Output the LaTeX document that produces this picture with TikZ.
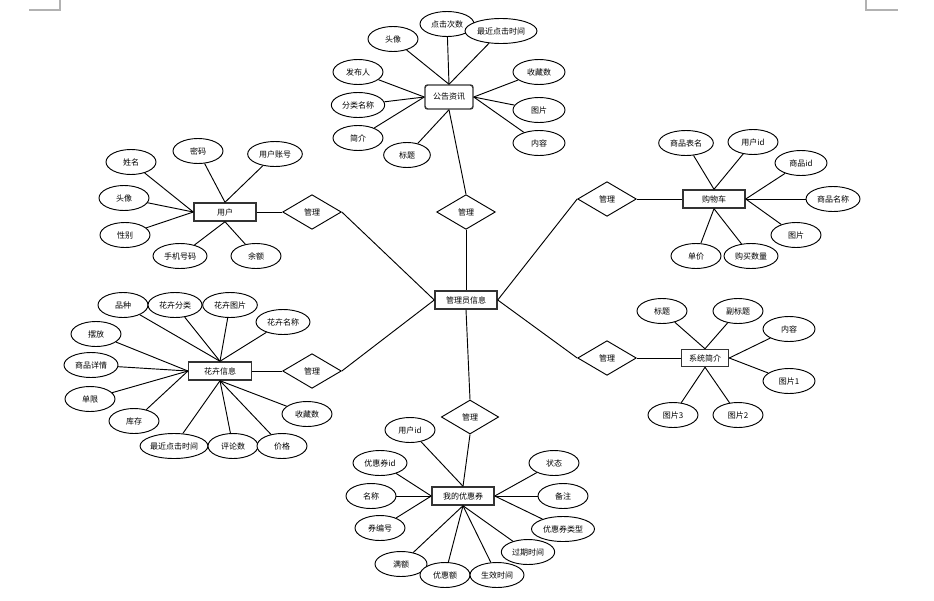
\documentclass[tikz,border=0pt]{standalone}
\usepackage{fontspec}
\newfontfamily\cjk{Noto Sans CJK SC}
\usetikzlibrary{shapes.geometric}
\tikzset{
  every node/.style={font=\cjk\fontsize{6}{7}\selectfont, inner sep=0pt},
  attr/.style={ellipse, draw, line width=0.7pt, fill=white, minimum width=#1, minimum height=18.75pt},
  attr/.default=37.5pt,
  ent/.style={rectangle, draw=black!80, line width=1.1pt, fill=white, minimum width=46.5pt, minimum height=13.5pt},
  rel/.style={diamond, draw, line width=0.7pt, fill=white, minimum width=44pt, minimum height=26pt},
  link/.style={line width=0.7pt},
  mark/.style={draw=black!30, line width=0.8pt}
}
\begin{document}
\begin{tikzpicture}[x=0.75pt,y=-0.75pt]
\path[use as bounding box] (0,0) rectangle (934,600);
\draw[black!30, line width=0.8pt] (29,10) -- (60,10) -- (60,0);
\draw[black!30, line width=0.8pt] (866,0) -- (866,10) -- (898,10);

% central
\node[ent] (admin) at (466,300) {管理员信息};

% 公告资讯
\node[ent, rounded corners=2pt, minimum width=36pt, minimum height=18pt] (gg) at (449,97) {公告资讯};
\node[rel] (rgg) at (466,212) {管理};
\node[attr=40.5pt] (gg1) at (447,24) {点击次数};
\node[attr=54pt] (gg2) at (501,31) {最近点击时间};
\node[attr] (gg3) at (393,39) {头像};
\node[attr] (gg4) at (358,72) {发布人};
\node[attr=40pt] (gg5) at (358,105) {分类名称};
\node[attr] (gg6) at (358,138) {简介};
\node[attr=35pt] (gg7) at (407,155) {标题};
\node[attr=39pt] (gg8) at (539,72) {收藏数};
\node[attr=39pt] (gg9) at (539,110) {图片};
\node[attr=39pt] (gg10) at (539,143) {内容};
\draw[link] (gg1) -- (gg.north);
\draw[link] (gg2) -- (gg.north);
\draw[link] (gg3) -- (gg.north);
\draw[link] (gg4) -- (gg.west);
\draw[link] (gg5) -- (gg.west);
\draw[link] (gg6) -- (gg.west);
\draw[link] (gg7) -- (gg.south);
\draw[link] (gg8) -- (gg.east);
\draw[link] (gg9) -- (gg.east);
\draw[link] (gg10) -- (gg.east);
\draw[link] (gg.south) -- (rgg.north);
\draw[link] (rgg.south) -- (admin.north);

% 用户
\node[ent] (yh) at (225,212) {用户};
\node[rel] (ryh) at (312,212) {管理};
\node[attr] (yh1) at (131,162) {姓名};
\node[attr] (yh2) at (198,151) {密码};
\node[attr=41pt] (yh3) at (275,154) {用户账号};
\node[attr] (yh4) at (124,198) {头像};
\node[attr] (yh5) at (125,235) {性别};
\node[attr=40.5pt] (yh6) at (180,256) {手机号码};
\node[attr] (yh7) at (256,256) {余额};
\draw[link] (yh1) -- (yh.west);
\draw[link] (yh4) -- (yh.west);
\draw[link] (yh5) -- (yh.west);
\draw[link] (yh2) -- (yh.north);
\draw[link] (yh3) -- (yh.north);
\draw[link] (yh6) -- (yh.south);
\draw[link] (yh7) -- (yh.south);
\draw[link] (yh.east) -- (ryh.west);
\draw[link] (ryh.east) -- (admin.west);

% 购物车
\node[ent] (gw) at (714,199) {购物车};
\node[rel] (rgw) at (607,199) {管理};
\node[attr=41pt] (gw1) at (686,143) {商品表名};
\node[attr] (gw2) at (753,142) {用户id};
\node[attr=39pt] (gw3) at (801,163) {商品id};
\node[attr=40.5pt] (gw4) at (833,199) {商品名称};
\node[attr] (gw5) at (796,235) {图片};
\node[attr] (gw6) at (696,256) {单价};
\node[attr=40.5pt] (gw7) at (751,256) {购买数量};
\draw[link] (gw1) -- (gw.north);
\draw[link] (gw2) -- (gw.north);
\draw[link] (gw3) -- (gw.east);
\draw[link] (gw4) -- (gw.east);
\draw[link] (gw5) -- (gw.east);
\draw[link] (gw6) -- (gw.south);
\draw[link] (gw7) -- (gw.south);
\draw[link] (rgw.east) -- (gw.west);
\draw[link] (rgw.west) -- (admin.east);

% 花卉信息
\node[ent, minimum width=47pt] (hh) at (220,371) {花卉信息};
\node[rel] (rhh) at (312,371) {管理};
\node[attr] (hh1) at (123,305) {品种};
\node[attr=40.5pt] (hh2) at (175,305) {花卉分类};
\node[attr=41pt] (hh3) at (230,305) {花卉图片};
\node[attr=40.5pt] (hh4) at (283,322) {花卉名称};
\node[attr] (hh5) at (96,334) {摆放};
\node[attr=40.5pt] (hh6) at (91,365) {商品详情};
\node[attr] (hh7) at (90,399) {单限};
\node[attr] (hh8) at (134,421) {库存};
\node[attr=49.5pt] (hh9) at (174,446) {最近点击时间};
\node[attr] (hh10) at (233,446) {评论数};
\node[attr] (hh11) at (282,446) {价格};
\node[attr] (hh12) at (307,414) {收藏数};
\draw[link] (hh1) -- (hh.north);
\draw[link] (hh2) -- (hh.north);
\draw[link] (hh3) -- (hh.north);
\draw[link] (hh4) -- (hh.north);
\draw[link] (hh5) -- (hh.west);
\draw[link] (hh6) -- (hh.west);
\draw[link] (hh7) -- (hh.west);
\draw[link] (hh8) -- (hh.west);
\draw[link] (hh9) -- (hh.south);
\draw[link] (hh10) -- (hh.south);
\draw[link] (hh11) -- (hh.south);
\draw[link] (hh12) -- (hh.south);
\draw[link] (hh.east) -- (rhh.west);
\draw[link] (rhh.east) -- (admin.west);

% 系统简介
\node[ent, minimum width=35.25pt, minimum height=12.75pt] (xt) at (705,358) {系统简介};
\node[rel] (rxt) at (607,358) {管理};
\node[attr] (xt1) at (662,311) {标题};
\node[attr] (xt2) at (738,311) {副标题};
\node[attr=39pt] (xt3) at (789,329) {内容};
\node[attr=39pt] (xt4) at (789,381) {图片1};
\node[attr] (xt5) at (738,415) {图片2};
\node[attr] (xt6) at (673,415) {图片3};
\draw[link] (xt1) -- (xt.north);
\draw[link] (xt2) -- (xt.north);
\draw[link] (xt3) -- (xt.east);
\draw[link] (xt4) -- (xt.east);
\draw[link] (xt5) -- (xt.south);
\draw[link] (xt6) -- (xt.south);
\draw[link] (rxt.east) -- (xt.west);
\draw[link] (rxt.west) -- (admin.east);

% 我的优惠券
\node[ent] (yq) at (463,496) {我的优惠券};
\node[rel, minimum width=43pt, minimum height=25.5pt] (ryq) at (470,417) {管理};
\node[attr] (yq1) at (410,430) {用户id};
\node[attr=40.5pt] (yq2) at (380,463) {优惠券id};
\node[attr] (yq3) at (371,496) {名称};
\node[attr] (yq4) at (380,528) {券编号};
\node[attr=39pt] (yq5) at (401,564) {满额};
\node[attr] (yq6) at (445,575) {优惠额};
\node[attr=40.5pt] (yq7) at (497,575) {生效时间};
\node[attr=40pt] (yq8) at (528,552) {过期时间};
\node[attr=47.25pt] (yq9) at (563,529) {优惠券类型};
\node[attr] (yq10) at (563,496) {备注};
\node[attr] (yq11) at (554,463) {状态};
\draw[link] (yq1) -- (yq.north);
\draw[link] (yq2) -- (yq.west);
\draw[link] (yq3) -- (yq.west);
\draw[link] (yq4) -- (yq.west);
\draw[link] (yq5) -- (yq.south);
\draw[link] (yq6) -- (yq.south);
\draw[link] (yq7) -- (yq.south);
\draw[link] (yq8) -- (yq.south);
\draw[link] (yq9) -- (yq.east);
\draw[link] (yq10) -- (yq.east);
\draw[link] (yq11) -- (yq.east);
\draw[link] (ryq.south) -- (yq.north);
\draw[link] (admin.south) -- (ryq.north);
\end{tikzpicture}
\end{document}
